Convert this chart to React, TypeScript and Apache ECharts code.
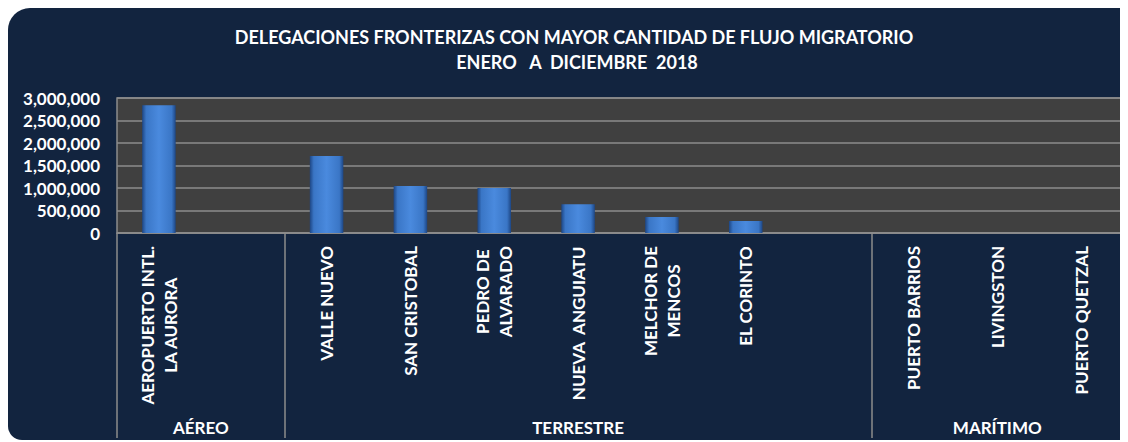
import React, { useEffect, useRef } from "react";
import * as echarts from "echarts";

const titleLines = [
  "DELEGACIONES FRONTERIZAS CON MAYOR CANTIDAD DE FLUJO MIGRATORIO",
  "ENERO   A  DICIEMBRE  2018",
];
const categories = [
  "AEROPUERTO INTL.\nLA AURORA",
  "",
  "VALLE NUEVO",
  "SAN CRISTOBAL",
  "PEDRO DE\nALVARADO",
  "NUEVA  ANGUIATU",
  "MELCHOR DE\nMENCOS",
  "EL CORINTO",
  " ",
  "PUERTO BARRIOS",
  "LIVINGSTON",
  "PUERTO QUETZAL",
];
const values = [2840000, null, 1710000, 1044000, 1000000, 637000, 356000, 267000, null, 0, 0, 0];
const groupNames = ["AÉREO", "TERRESTRE", "MARÍTIMO"];
const groupBounds = [0, 2, 9, 12];
const groupCenters = [1, 5.5, 10.5];
const yMin = 0;
const yMax = 3000000;
const yInterval = 500000;

const FONT = "Lato, 'Open Sans', sans-serif";
const BG = "#12243f";
const GRID_LINE = "#8c8c8c";

export default function App() {
  const ref = useRef<HTMLDivElement>(null);
  useEffect(() => {
    if (!ref.current) return;
    const chart = echarts.init(ref.current, undefined, { renderer: "svg" });
    const barColor = new echarts.graphic.LinearGradient(1, 0, 0, 0, [
      { offset: 0, color: "#1d4684" },
      { offset: 0.12, color: "#3a76c6" },
      { offset: 0.5, color: "#4a8ade" },
      { offset: 0.88, color: "#3a76c6" },
      { offset: 1, color: "#1d4684" },
    ]);
    chart.setOption({
      animation: false,
      backgroundColor: "transparent",
      graphic: [
        {
          type: "text",
          x: 566,
          y: 29,
          style: {
            text: titleLines[0],
            align: "center",
            verticalAlign: "middle",
            fill: "#ffffff",
            font: `bold 18px ${FONT}`,
          },
        },
        {
          type: "text",
          x: 569,
          y: 54,
          style: {
            text: titleLines[1],
            align: "center",
            verticalAlign: "middle",
            fill: "#ffffff",
            font: `bold 18px ${FONT}`,
          },
        },
      ],
      grid: {
        left: 109,
        right: 5,
        top: 90,
        bottom: 207,
        show: true,
        backgroundColor: "#404040",
        borderColor: GRID_LINE,
        borderWidth: 1.5,
      },
      xAxis: [
        {
          type: "category",
          data: categories,
          axisTick: { show: false },
          axisLine: { show: true, lineStyle: { color: GRID_LINE, width: 1.5 } },
          axisLabel: {
            interval: 0,
            rotate: 90,
            margin: 13,
            color: "#ffffff",
            fontFamily: FONT,
            fontWeight: "bold",
            fontSize: 17,
            lineHeight: 23,
            formatter: (v: string) =>
              v.trim() ? v.split("\n").map((l) => `{c|${l}}`).join("\n") : "",
            rich: {
              c: {
                align: "center",
                color: "#ffffff",
                fontFamily: FONT,
                fontWeight: "bold",
                fontSize: 17,
                lineHeight: 23,
              },
            },
          },
        },
        {
          type: "value",
          min: 0,
          max: 12,
          position: "bottom",
          axisLine: { show: false },
          splitLine: { show: false },
          axisTick: {
            show: true,
            customValues: groupBounds,
            length: 205,
            lineStyle: { color: GRID_LINE, width: 1.5 },
          },
          axisLabel: {
            customValues: groupCenters,
            margin: 194,
            verticalAlign: "middle",
            color: "#ffffff",
            fontFamily: FONT,
            fontWeight: "bold",
            fontSize: 17,
            formatter: (v: number) => groupNames[groupCenters.indexOf(v)] ?? "",
          },
        },
      ],
      yAxis: {
        type: "value",
        min: yMin,
        max: yMax,
        interval: yInterval,
        axisLine: { show: false },
        axisTick: { show: false },
        splitLine: { lineStyle: { color: GRID_LINE, width: 1.5 } },
        axisLabel: {
          margin: 17,
          color: "#ffffff",
          fontFamily: FONT,
          fontWeight: "bold",
          fontSize: 17,
        },
      },
      series: [
        {
          type: "bar",
          data: values,
          xAxisIndex: 0,
          barWidth: "40%",
          itemStyle: { color: barColor, borderWidth: 0 },
        },
      ],
    });
    return () => chart.dispose();
  }, []);
  return (
    <div
      style={{
        width: 1120,
        height: 432,
        background: BG,
        borderRadius: "22px 0 0 14px",
        overflow: "hidden",
      }}
    >
      <div ref={ref} style={{ width: 1120, height: 432 }} />
    </div>
  );
}
